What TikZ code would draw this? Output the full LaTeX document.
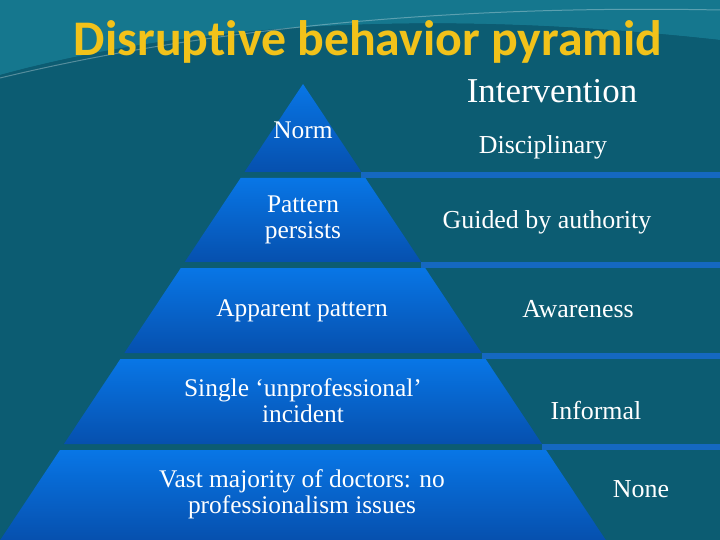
\documentclass[tikz,border=0pt]{standalone}
\usepackage{fontspec}
\setmainfont{Liberation Serif}
\newfontfamily\titlefont[Ligatures=NoCommon]{Carlito}
\definecolor{bgteal}{HTML}{0C5C72}
\definecolor{swoosh}{HTML}{1C8AA2}
\definecolor{bandtop}{HTML}{0876E6}
\definecolor{bandbot}{HTML}{0650AE}
\definecolor{barblue}{HTML}{1568C0}
\definecolor{titlegold}{HTML}{F2C21A}
\tikzset{
  lefttxt/.style={text=white, font=\fontsize{25.5}{26}\selectfont, align=center, inner sep=0pt},
  righttxt/.style={text=white, font=\fontsize{26}{28}\selectfont, align=center},
}
\begin{document}
\begin{tikzpicture}[x=1bp,y=-1bp]
    \useasboundingbox (0,0) rectangle (720,540);
    \fill[bgteal] (0,0) rectangle (720,540);
    % swoosh at the top
    \fill[swoosh,opacity=0.6] (0,75) .. controls (200,20) and (450,10) .. (720,40) -- (720,0) -- (0,0) -- cycle;
    \fill[bgteal,opacity=0.7] (0,85) .. controls (220,40) and (470,30) .. (720,70) -- (720,40) .. controls (450,10) and (200,20) .. (0,75) -- cycle;
    \draw[white,opacity=0.3,line width=1pt] (0,78) .. controls (220,25) and (470,5) .. (720,10);
    % pyramid bands
    \foreach \ya/\yb in {84/172, 178/262, 268/353, 359/444, 450/540} {
      \shade[top color=bandtop, bottom color=bandbot]
        (303-0.664*\ya+0.664*84,\ya) -- (303+0.664*\ya-0.664*84,\ya)
        -- (303+0.664*\yb-0.664*84,\yb) -- (303-0.664*\yb+0.664*84,\yb) -- cycle;
    }
    % separator bars
    \foreach \yb in {172, 262, 353, 444} {
      \fill[barblue] (303+0.664*\yb-0.664*84,\yb) rectangle (720,\yb+6);
    }
    % title
    \node (title) [text=titlegold, font=\titlefont\bfseries\fontsize{50}{52}\selectfont] at (368,42) {Disruptive behavior pyramid};
    \node (interv) [text=white, font=\fontsize{35}{37}\selectfont] at (552,91) {Intervention};
    % pyramid labels
    \node (norm) [lefttxt] at (303,130) {Norm};
    \node (persists) [lefttxt] at (303,220) {Pattern\\persists};
    \node (apparent) [lefttxt] at (302,311) {Apparent pattern};
    \node (single) [lefttxt] at (303,401) {Single ‘unprofessional’\\incident};
    \node (vast) [lefttxt] at (302,494) {Vast majority of doctors: no\\professionalism issues};
    % intervention labels
    \node (discip) [righttxt] at (543,147) {Disciplinary};
    \node (guided) [righttxt] at (547,222) {Guided by authority};
    \node (aware) [righttxt] at (578,309) {Awareness};
    \node (informal) [righttxt] at (596,411) {Informal};
    \node (none) [righttxt] at (641,489) {None};
\end{tikzpicture}
\end{document}
